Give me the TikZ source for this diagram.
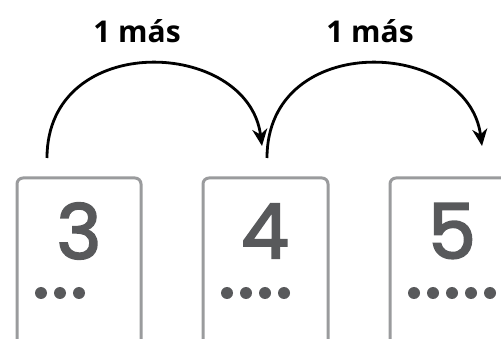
\documentclass[tikz,border=0pt]{standalone}
\usepackage{fontspec}
\setmainfont{Open Sans}
\newfontfamily\digitfont{Poppins}[FakeBold=2.6]
\usetikzlibrary{arrows.meta}
\definecolor{cardgray}{HTML}{9A9B9D}
\definecolor{digitgray}{HTML}{58595B}
\tikzset{
  card/.style={draw=cardgray, line width=3pt, rounded corners=6pt},
  digit/.style={text=digitgray, font=\digitfont\fontsize{76}{76}\selectfont, inner sep=0pt},
  dot/.style={fill=digitgray, draw=none},
  hop/.style={line width=2.8pt, -{Stealth[length=17pt,width=15pt]}},
  hoplabel/.style={font=\bfseries\fontsize{30}{30}\selectfont}
}
\begin{document}
\begin{tikzpicture}[x=1pt,y=-1pt]
\useasboundingbox (0,0) rectangle (501,339);
% cards
\draw[card] (17,178) rectangle (141,360);
\draw[card] (203,178) rectangle (328,360);
\draw[card] (390,178) rectangle (515,360);
\node[digit] (d3) at (79,231) {3};
\node[digit] (d4) at (265,231) {4};
\node[digit] (d5) at (452,231) {5};
\foreach \i in {0,1,2} \fill[dot] (41+19*\i,293) circle (6pt);
\foreach \i in {0,...,3} \fill[dot] (227+19*\i,293) circle (6pt);
\foreach \i in {0,...,4} \fill[dot] (414+19*\i,293) circle (6pt);
% hops
\coordinate (s1) at (47,158);
\coordinate (e1) at (262,146);
\coordinate (s2) at (267,158);
\coordinate (e2) at (482,146);
\draw[hop] (s1) .. controls (47,30) and (248,38) .. (e1);
\draw[hop] (s2) .. controls (267,30) and (468,38) .. (e2);
\node[hoplabel] (l1) at (137,31) {1 más};
\node[hoplabel] (l2) at (370,31) {1 más};
\end{tikzpicture}
\end{document}
